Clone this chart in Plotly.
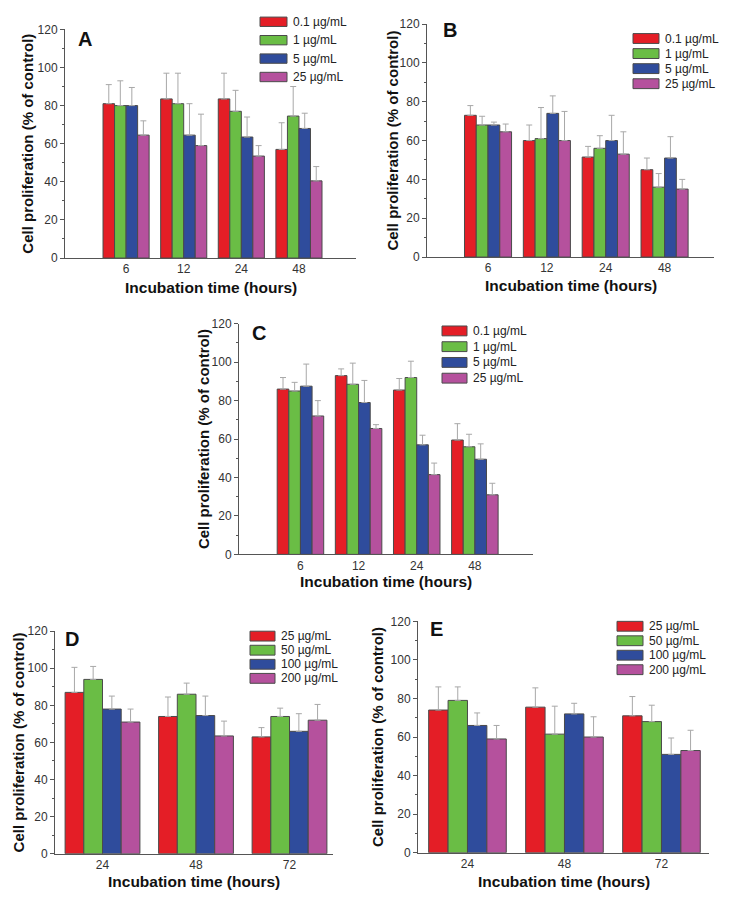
import plotly.graph_objects as go

# ---------------- data ----------------
times_ABC = ["6", "12", "24", "48"]
times_DE = ["24", "48", "72"]
conc_ABC = ["0.1 µg/mL", "1 µg/mL", "5 µg/mL", "25 µg/mL"]
conc_DE = ["25 µg/mL", "50 µg/mL", "100 µg/mL", "200 µg/mL"]

# rows = concentration, columns = incubation time
A_mean = [[81, 83.5, 83.5, 57], [80, 81, 77, 74.5], [80, 64.5, 63.5, 68], [64.5, 59, 53.5, 40.5]]
A_sd = [[10, 13.5, 13.5, 14], [13, 16, 11, 15.5], [9.5, 16.5, 10.5, 8], [7.5, 16.5, 5.5, 7.5]]

B_mean = [[73, 60, 51.5, 45], [68, 61, 56, 36], [68, 74, 60, 51], [64.5, 60, 53, 35]]
B_sd = [[5, 8, 5.5, 6], [4.5, 16, 6.5, 7], [1.5, 9, 13, 11], [4, 15, 11.5, 5]]

C_mean = [[86, 93, 85.5, 59.5], [85, 88.5, 92, 56], [87.5, 79, 57, 49.5], [72, 65.5, 41.5, 31]]
C_sd = [[6, 3.5, 6, 8.5], [4.5, 11, 8.5, 6.5], [11.5, 11.5, 5, 8], [8, 2, 6, 6]]

D_mean = [[87, 74, 63], [94, 86, 74], [78, 74.5, 66], [71, 63.5, 72]]
D_sd = [[13.5, 10.5, 5], [7, 6, 4.5], [7, 10.5, 9.5], [7, 8, 8.5]]

E_mean = [[74, 75.5, 71], [79, 61.5, 68], [66, 72, 51], [59, 60, 53]]
E_sd = [[12, 10, 10], [7, 14.5, 8.5], [6.5, 5.5, 8.5], [7, 10.5, 10.5]]

y_ticks = [0, 20, 40, 60, 80, 100, 120]

# ---------------- styling / layout ----------------
W, H = 732, 905
colors = ["#E41E26", "#6ABD45", "#2F4C9C", "#B5519D"]
FONT = "Arial, Liberation Sans, sans-serif"

def px(x):
    return x / W

def py(y):
    return 1 - y / H

panels = [
    dict(letter="A", mean=A_mean, sd=A_sd, times=times_ABC, conc=conc_ABC,
         l=65, r=356, t=22.7, b=255, xr=[-1.06, 3.99], ytx=28, xty=285, lp=(85, 32),
         leg=(260, 287, 15, 18.7, 9.5)),
    dict(letter="B", mean=B_mean, sd=B_sd, times=times_ABC, conc=conc_ABC,
         l=427, r=714, t=17.3, b=254, xr=[-1.037, 3.84], ytx=393, xty=283, lp=(450, 23),
         leg=(633, 659, 32, 15.3, 10)),
    dict(letter="C", mean=C_mean, sd=C_sd, times=times_ABC, conc=conc_ABC,
         l=239, r=533, t=321.7, b=556, xr=[-1.057, 4.0], ytx=203, xty=584, lp=(259, 331),
         leg=(442, 467, 329, 16, 10)),
    dict(letter="D", mean=D_mean, sd=D_sd, times=times_DE, conc=conc_DE,
         l=55, r=333, t=634, b=860, xr=[-0.508, 2.465], ytx=18, xty=888, lp=(72, 642),
         leg=(250, 275, 639, 14.3, 10)),
    dict(letter="E", mean=E_mean, sd=E_sd, times=times_DE, conc=conc_DE,
         l=418, r=709, t=624, b=859, xr=[-0.51, 2.49], ytx=377, xty=888, lp=(436, 632),
         leg=(617, 643, 629, 14.7, 10)),
]

fig = go.Figure()
layout = dict(
    width=W, height=H, margin=dict(l=0, r=0, t=0, b=0),
    paper_bgcolor="white", plot_bgcolor="white",
    showlegend=False, barmode="group", bargap=0.2, bargroupgap=0,
    font=dict(family=FONT, color="#333333"),
)
annotations = []
shapes = []

for i, p in enumerate(panels):
    n = i + 1
    xa = "x" if n == 1 else f"x{n}"
    ya = "y" if n == 1 else f"y{n}"
    xpos = list(range(len(p["times"])))
    for k in range(4):
        fig.add_trace(go.Bar(
            x=xpos, y=p["mean"][k], name=p["conc"][k], xaxis=xa, yaxis=ya,
            offsetgroup=str(k),
            marker=dict(color=colors[k], line=dict(color="#4a4a4a", width=1)),
            error_y=dict(type="data", symmetric=False, array=p["sd"][k],
                         arrayminus=[0] * len(xpos), color="#A8A8A8",
                         thickness=1, width=3),
        ))
    layout["xaxis" if n == 1 else f"xaxis{n}"] = dict(
        domain=[px(p["l"]), px(p["r"])], anchor=ya, range=p["xr"],
        tickvals=xpos, ticktext=p["times"], ticks="", ticklen=2, showline=True,
        linecolor="#555555", linewidth=1, showgrid=False, zeroline=False,
        tickfont=dict(size=12, color="#333333"), fixedrange=True,
    )
    layout["yaxis" if n == 1 else f"yaxis{n}"] = dict(
        domain=[py(p["b"]), py(p["t"])], anchor=xa, range=[0, 120],
        tickvals=y_ticks, ticks="outside", ticklen=4, tickcolor="#555555",
        minor=dict(ticks="outside", ticklen=2, dtick=10, tickcolor="#555555"),
        showline=True, linecolor="#555555", linewidth=1, showgrid=False,
        zeroline=False, tickfont=dict(size=12, color="#333333"), fixedrange=True,
    )
    annotations.append(dict(
        text="<b>Cell proliferation (% of control)</b>", textangle=-90,
        xref="paper", yref="paper", x=px(p["ytx"]), y=py((p["t"] + p["b"]) / 2),
        xanchor="center", yanchor="middle", showarrow=False,
        font=dict(size=15, color="#111111", family=FONT)))
    annotations.append(dict(
        text="<b>Incubation time (hours)</b>",
        xref="paper", yref="paper", x=px((p["l"] + p["r"]) / 2), y=py(p["xty"]),
        xanchor="center", yanchor="middle", showarrow=False,
        font=dict(size=15.5, color="#111111", family=FONT)))
    annotations.append(dict(
        text=f"<b>{p['letter']}</b>", xref="paper", yref="paper",
        x=px(p["lp"][0]), y=py(p["lp"][1]), xanchor="center", yanchor="middle",
        showarrow=False, font=dict(size=20, color="#111111", family=FONT)))
    bl, br, r0, step, bh = p["leg"]
    for k in range(4):
        yc = r0 + k * step
        shapes.append(dict(
            type="rect", xref="paper", yref="paper",
            x0=px(bl), x1=px(br), y0=py(yc - bh / 2), y1=py(yc + bh / 2),
            fillcolor=colors[k], line=dict(color="#4a4a4a", width=1)))
        annotations.append(dict(
            text=p["conc"][k], xref="paper", yref="paper",
            x=px(br + 4), y=py(yc), xanchor="left", yanchor="middle",
            showarrow=False, font=dict(size=12, color="#222222", family=FONT)))

layout["annotations"] = annotations
layout["shapes"] = shapes
fig.update_layout(**layout)

post_js = (
    "document.documentElement.style.margin='0';"
    "document.documentElement.style.overflow='hidden';"
    "document.body.style.margin='0';document.body.style.padding='0';"
    "document.body.style.overflow='hidden';"
    "var d=document.getElementById('{plot_id}');"
    "d.style.position='fixed';d.style.top='0px';d.style.left='0px';"
)
fig.write_html(
    "out.html",
    config={"displayModeBar": False, "staticPlot": True},
    post_script=post_js,
)
